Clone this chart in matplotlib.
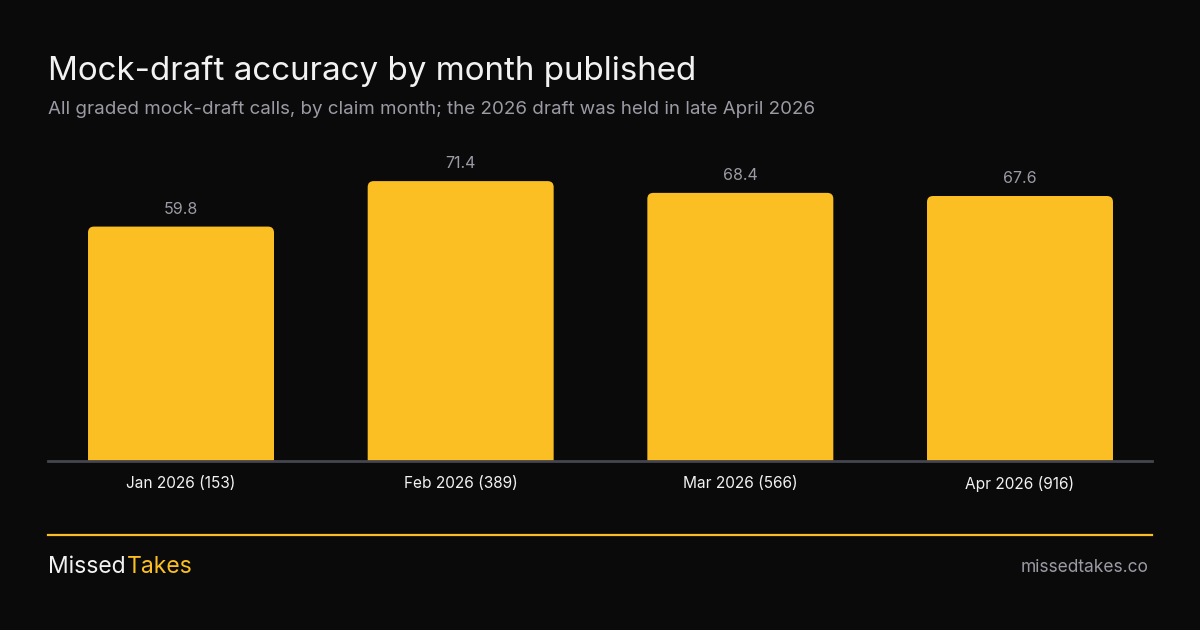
import matplotlib
matplotlib.use('Agg')
import matplotlib.pyplot as plt
from matplotlib.path import Path
from matplotlib.patches import PathPatch

# Dati
months = ["Jan 2026", "Feb 2026", "Mar 2026", "Apr 2026"]
counts = [153, 389, 566, 916]
accuracy = [59.8, 71.4, 68.4, 67.6]

title = "Mock-draft accuracy by month published"
subtitle = "All graded mock-draft calls, by claim month; the 2026 draft was held in late April 2026"

BG = "#0a0a0a"
YELLOW = "#fbbf24"
GRAY = "#9b9ba5"
WHITE = "#f2f2f2"
W, H = 1200, 630

plt.rcParams['font.family'] = ['Inter', 'DejaVu Sans']

fig = plt.figure(figsize=(12, 6.3), dpi=100, facecolor=BG)


def fy(py):
    # pixel dall'alto -> coordinata figura
    return 1 - py / H


def rounded_bar(x0, w, h, rx, ry):
    # barra con solo gli angoli superiori arrotondati (coordinate dati)
    verts = [
        (x0, 0), (x0, h - ry),
        (x0, h), (x0 + rx, h),
        (x0 + w - rx, h),
        (x0 + w, h), (x0 + w, h - ry),
        (x0 + w, 0), (x0, 0),
    ]
    codes = [Path.MOVETO, Path.LINETO,
             Path.CURVE3, Path.CURVE3,
             Path.LINETO,
             Path.CURVE3, Path.CURVE3,
             Path.LINETO, Path.CLOSEPOLY]
    return Path(verts, codes)


# Area del grafico: x da 48 a 1152, baseline a y=461
ax = fig.add_axes([48 / W, fy(461), 1104 / W, (461 - 147.4) / H])
ax.set_facecolor(BG)
ax.set_xlim(-0.4756, 3.472)
ax.set_ylim(0, 80)
for s in ax.spines.values():
    s.set_visible(False)
ax.set_yticks([])

bar_w = 0.665
r_x = 6 / 279.67   # ~6 px in unita' x
r_y = 6 / 3.92     # ~6 px in unita' y
for i, v in enumerate(accuracy):
    p = rounded_bar(i - bar_w / 2, bar_w, v, r_x, r_y)
    ax.add_patch(PathPatch(p, fc=YELLOW, ec='none', lw=0))
    ax.annotate(f"{v:.1f}", (i, v), xytext=(0, 7), textcoords='offset points',
                ha='center', va='bottom', color=GRAY, fontsize=11.5)

ax.axhline(0, color="#45454f", lw=2, clip_on=False, zorder=3)

ax.set_xticks(range(len(months)))
ax.set_xticklabels([f"{m} ({c})" for m, c in zip(months, counts)],
                   color=WHITE, fontsize=11.1)
ax.tick_params(axis='x', length=0, pad=11)

# Titolo e sottotitolo
fig.text(48 / W, fy(71), title, color=WHITE, fontsize=23.9,
         ha='left', va='center')
fig.text(48 / W, fy(110), subtitle, color=GRAY, fontsize=13.5,
         ha='left', va='center')

# Linea separatrice gialla
fig.add_artist(plt.Line2D([48 / W, 1152 / W], [fy(535), fy(535)],
                          color=YELLOW, lw=1.6))

# Footer
t1 = fig.text(48 / W, fy(567), "Missed", color=WHITE, fontsize=16.5,
              ha='left', va='center')
fig.canvas.draw()
bb = t1.get_window_extent()
fig.text(bb.x1 / W + 1 / W, fy(567), "Takes", color=YELLOW, fontsize=16.5,
         ha='left', va='center')
fig.text(1148 / W, fy(567), "missedtakes.co", color=GRAY, fontsize=12.5,
         ha='right', va='center')

fig.savefig("out.png", dpi=100, facecolor=BG)
plt.close()
